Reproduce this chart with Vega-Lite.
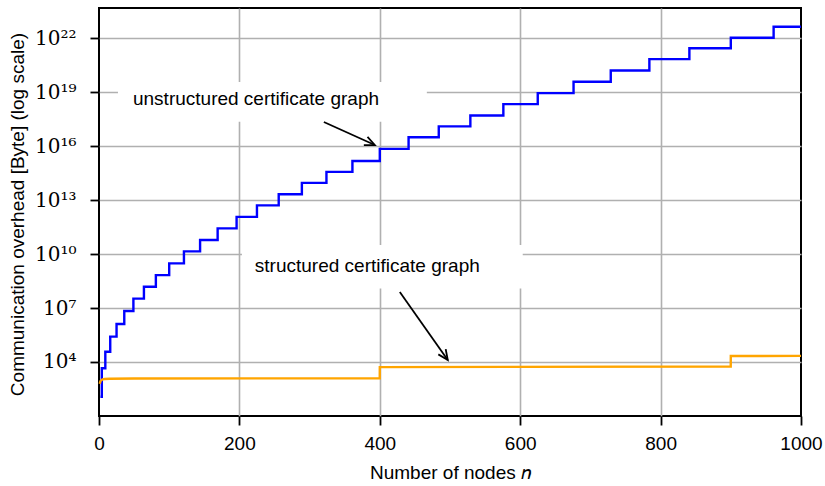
{
  "$schema": "https://vega.github.io/schema/vega-lite/v6.json",
  "width": 702,
  "height": 408,
  "autosize": {"type": "none"},
  "padding": {"left": 99, "top": 8, "right": 24, "bottom": 70},
  "background": "white",
  "config": {
    "view": {"stroke": "black", "strokeWidth": 2}
  },
  "datasets": {
    "unstructured": [
      {"n": 2, "v": 117}, {"n": 4, "v": 4467}, {"n": 9, "v": 37150}, {"n": 16, "v": 257000},
      {"n": 25, "v": 1290000}, {"n": 36, "v": 6760000}, {"n": 49, "v": 3.31e7}, {"n": 64, "v": 1.51e8},
      {"n": 81, "v": 6.76e8}, {"n": 100, "v": 3.02e9}, {"n": 121, "v": 1.41e10}, {"n": 144, "v": 6.03e10},
      {"n": 169, "v": 2.69e11}, {"n": 196, "v": 1.17e12}, {"n": 225, "v": 5.13e12}, {"n": 256, "v": 2.14e13},
      {"n": 289, "v": 9.12e13}, {"n": 324, "v": 3.72e14}, {"n": 361, "v": 1.51e15}, {"n": 400, "v": 7.08e15},
      {"n": 441, "v": 3.16e16}, {"n": 484, "v": 1.26e17}, {"n": 529, "v": 5.13e17}, {"n": 576, "v": 2.19e18},
      {"n": 625, "v": 8.91e18}, {"n": 676, "v": 3.8e19}, {"n": 729, "v": 1.62e20}, {"n": 784, "v": 6.92e20},
      {"n": 841, "v": 2.82e21}, {"n": 900, "v": 1.07e22}, {"n": 961, "v": 4.37e22}, {"n": 1000, "v": 4.37e22}
    ],
    "structured": [
      {"n": 1, "v": 603}, {"n": 2, "v": 832}, {"n": 3, "v": 955}, {"n": 5, "v": 1070}, {"n": 8, "v": 1120},
      {"n": 15, "v": 1170}, {"n": 50, "v": 1200}, {"n": 399.9, "v": 1230}, {"n": 400, "v": 5130},
      {"n": 899.9, "v": 5620}, {"n": 900, "v": 21400}, {"n": 1000, "v": 21900}
    ],
    "boxes": [
      {"n": 27, "v": 2.29e17, "n2": 467, "v2": 3.72e19},
      {"n": 203.6, "v": 1.23e8, "n2": 603.6, "v2": 3.16e10}
    ],
    "arrows": [
      {"n": 320.3, "v": 2.21e17, "n2": 392.9, "v2": 1.16e16},
      {"n": 428.5, "v": 7.76e7, "n2": 496.8, "v2": 12880}
    ],
    "heads": [
      {"n": 392.9, "v": 1.16e16, "arrow": 1},
      {"n": 496.8, "v": 12880, "arrow": 2}
    ],
    "labels": [
      {"n": 48.4, "v": 1.95e18, "text": "unstructured certificate graph"},
      {"n": 222, "v": 1.05e9, "text": "structured certificate graph"}
    ]
  },
  "encoding": {
    "x": {
      "field": "n", "type": "quantitative",
      "scale": {"domain": [0, 1000], "nice": false, "zero": false},
      "title": "Number of nodes 𝑛",
      "axis": {
        "values": [0, 200, 400, 600, 800, 1000],
        "format": "d",
        "domain": false,
        "grid": true, "gridColor": "#b0b0b0", "gridWidth": 1.6,
        "gridOpacity": {"condition": {"test": "datum.value <= 0 || datum.value >= 1000", "value": 0}, "value": 1},
        "ticks": true, "tickColor": "black", "tickSize": 9, "tickWidth": 1.8,
        "labelFont": "Liberation Sans", "labelFontSize": 19, "labelColor": "black",
        "labelBaseline": "alphabetic", "labelPadding": 24, "labelFlush": false, "labelOverlap": false,
        "titleFont": "Liberation Sans", "titleFontSize": 19, "titleFontWeight": "normal", "titleColor": "black",
        "titleX": 351, "titleY": 62, "titleBaseline": "alphabetic", "titleAlign": "center"
      }
    },
    "y": {
      "field": "v", "type": "quantitative",
      "scale": {"type": "log", "domain": [9.87, 4.84e23], "nice": false},
      "title": "Communication overhead [Byte] (log scale)",
      "axis": {
        "values": [1e4, 1e7, 1e10, 1e13, 1e16, 1e19, 1e22],
        "labelExpr": "datum.value < 1e5 ? '10⁴' : datum.value < 1e8 ? '10⁷' : datum.value < 1e11 ? '10¹⁰' : datum.value < 1e14 ? '10¹³' : datum.value < 1e17 ? '10¹⁶' : datum.value < 1e20 ? '10¹⁹' : '10²²'",
        "domain": false,
        "grid": true, "gridColor": "#b0b0b0", "gridWidth": 1.6,
        "ticks": true, "tickColor": "black", "tickSize": 9, "tickWidth": 1.8,
        "labelFont": "DejaVu Serif", "labelFontSize": 20, "labelColor": "black",
        "labelBaseline": "middle", "labelPadding": 14, "labelOverlap": false, "labelFlush": false,
        "titleFont": "Liberation Sans", "titleFontSize": 19, "titleFontWeight": "normal", "titleColor": "black",
        "titleX": -82, "titleY": 206, "titleAngle": -90, "titleAlign": "center", "titleBaseline": "middle"
      }
    }
  },
  "layer": [
    {
      "data": {"name": "boxes"},
      "mark": {"type": "rect", "fill": "white", "stroke": null},
      "encoding": {"x2": {"field": "n2"}, "y2": {"field": "v2"}}
    },
    {
      "data": {"name": "unstructured"},
      "mark": {"type": "line", "interpolate": "step-after", "color": "#0000ff", "strokeWidth": 2.4},
      "encoding": {}
    },
    {
      "data": {"name": "structured"},
      "mark": {"type": "line", "interpolate": "linear", "color": "#ffa500", "strokeWidth": 2.4},
      "encoding": {}
    },
    {
      "data": {"name": "arrows"},
      "mark": {"type": "rule", "color": "black", "strokeWidth": 1.8},
      "encoding": {"x2": {"field": "n2"}, "y2": {"field": "v2"}}
    },
    {
      "data": {"name": "heads"},
      "transform": [{"filter": "datum.arrow == 1"}],
      "mark": {"type": "point", "shape": "M-0.45,1 L0,0 L0.45,1", "filled": false, "stroke": "black", "strokeWidth": 1.8, "size": 400, "angle": 114, "opacity": 1},
      "encoding": {}
    },
    {
      "data": {"name": "heads"},
      "transform": [{"filter": "datum.arrow == 2"}],
      "mark": {"type": "point", "shape": "M-0.45,1 L0,0 L0.45,1", "filled": false, "stroke": "black", "strokeWidth": 1.8, "size": 400, "angle": 145, "opacity": 1},
      "encoding": {}
    },
    {
      "data": {"name": "labels"},
      "mark": {"type": "text", "align": "left", "baseline": "alphabetic", "font": "Liberation Sans", "fontSize": 19, "color": "black"},
      "encoding": {"text": {"field": "text"}}
    }
  ]
}
